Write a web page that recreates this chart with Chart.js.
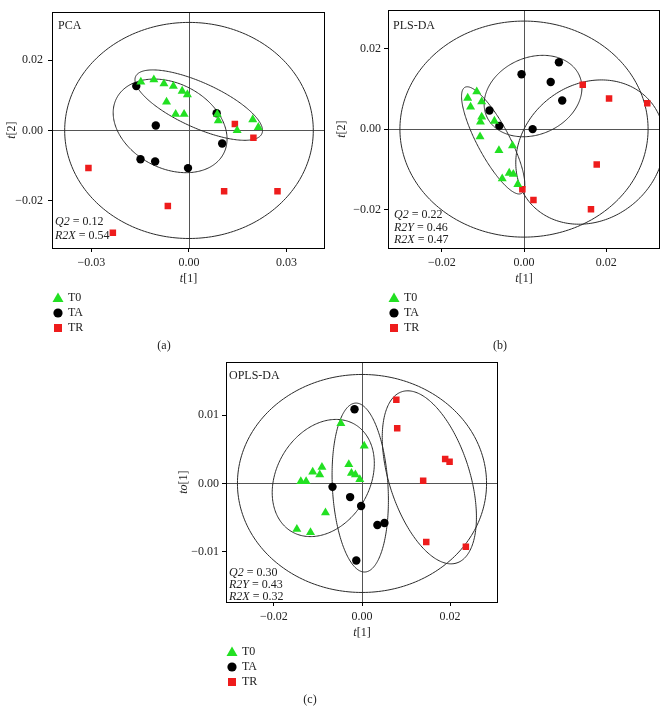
<!DOCTYPE html>
<html>
<head>
<meta charset="utf-8">
<script src="https://cdn.jsdelivr.net/npm/chart.js@4.4.1/dist/chart.umd.min.js"></script>
<style>
body { margin:0; background:#fff; width:672px; height:711px; position:relative; overflow:hidden; }
canvas { position:absolute; }
</style>
</head>
<body>
<canvas id="pca" width="336" height="355" style="left:0;top:0"></canvas>
<canvas id="plsda" width="336" height="355" style="left:336px;top:0"></canvas>
<canvas id="oplsda" width="340" height="359" style="left:170px;top:352px"></canvas>
<script>
// ---- data ----
const groups = ['T0', 'TA', 'TR'];
const groupColors = ['#22e022', '#000000', '#ee1c1c'];

// (a) PCA scores  [t1, t2]
const pcaT0 = [[-0.0148,0.0138],[-0.0108,0.0144],[-0.0077,0.0133],[-0.0048,0.0126],[-0.0021,0.0112],[-0.0005,0.0102],
  [-0.0069,0.0081],[-0.0041,0.0046],[-0.0015,0.0046],[0.0087,0.0046],[0.0090,0.0028],[0.0148,0.0000],[0.0196,0.0031],[0.0213,0.0009]];
const pcaTA = [[-0.0162,0.0126],[-0.0102,0.0014],[0.0085,0.0049],[0.0102,-0.0037],[-0.0149,-0.0082],[-0.0104,-0.0088],[-0.0003,-0.0107]];
const pcaTR = [[0.0141,0.0018],[0.0198,-0.0021],[-0.0309,-0.0107],[0.0108,-0.0173],[0.0272,-0.0173],[-0.0065,-0.0215],[-0.0234,-0.0291]];
// ellipses: [cx, cy, sx, sy, r]  (Hotelling T2 + group ellipses)
const pcaEllipses = [[0,0,0.0382,0.0307,0],[0.0030,0.0072,0.0196,0.0100,-0.72],[-0.0058,0.0013,0.0175,0.0133,-0.28]];
const pcaStats = [[['Q2',true],[' = 0.12',false]], [['R2X',true],[' = 0.54',false]]];
const pcaXTicks = [-0.03, 0, 0.03];
const pcaYTicks = [-0.02, 0, 0.02];

// (b) PLS-DA scores
const plsT0 = [[-0.0137,0.0077],[-0.0115,0.0093],[-0.0130,0.0055],[-0.0103,0.0068],[-0.0103,0.0030],[-0.0106,0.0018],[-0.0072,0.0020],
  [-0.0107,-0.0019],[-0.0061,-0.0053],[-0.0028,-0.0041],[-0.0036,-0.0109],[-0.0026,-0.0112],[-0.0053,-0.0123],[-0.0015,-0.0137]];
const plsTA = [[-0.0006,0.0136],[0.0085,0.0166],[0.0065,0.0117],[0.0093,0.0071],[-0.0084,0.0046],[-0.0060,0.0008],[0.0021,0.0000]];
const plsTR = [[0.0143,0.0110],[0.0207,0.0076],[0.0300,0.0064],[0.0177,-0.0088],[0.0163,-0.0199],[0.0023,-0.0176],[-0.0004,-0.0149]];
const plsEllipses = [[0,0,0.0302,0.0268,0],[-0.0075,-0.0028,0.0077,0.0133,-0.82],[0.0022,0.0082,0.0119,0.0101,0.2],[0.0161,-0.0057,0.0181,0.0179,0.15]];
const plsStats = [[['Q2',true],[' = 0.22',false]], [['R2Y',true],[' = 0.46',false]], [['R2X',true],[' = 0.47',false]]];
const plsXTicks = [-0.02, 0, 0.02];
const plsYTicks = [-0.02, 0, 0.02];

// (c) OPLS-DA scores  [t1, to1]
const oplsT0 = [[-0.0048,0.0088],[0.0005,0.0055],[-0.0030,0.0028],[-0.0091,0.0024],[-0.0112,0.0017],[-0.0096,0.0013],[-0.0024,0.0015],
  [-0.0015,0.0013],[-0.0005,0.0006],[-0.0139,0.0003],[-0.0127,0.0003],[-0.0083,-0.0043],[-0.0148,-0.0067],[-0.0117,-0.0072]];
const oplsTA = [[-0.0017,0.0109],[-0.0067,-0.0005],[-0.0027,-0.0020],[-0.0002,-0.0033],[0.0035,-0.0061],[0.0051,-0.0058],[-0.0013,-0.0113]];
const oplsTR = [[0.0078,0.0123],[0.0080,0.0081],[0.0189,0.0036],[0.0199,0.0032],[0.0139,0.0004],[0.0146,-0.0086],[0.0236,-0.0093]];
const oplsEllipses = [[0,0,0.0283,0.0160,0],[-0.0088,0.0008,0.0116,0.0086,0.25],[-0.0004,-0.0006,0.0064,0.0124,-0.15],[0.0153,0.0009,0.0107,0.0127,-0.46]];
const oplsStats = [[['Q2',true],[' = 0.30',false]], [['R2Y',true],[' = 0.43',false]], [['R2X',true],[' = 0.32',false]]];
const oplsXTicks = [-0.02, 0, 0.02];
const oplsYTicks = [-0.01, 0, 0.01];

// ---- drawing ----
const SERIF = '"Liberation Serif", "Times New Roman", serif';
const pointStyles = ['triangle', 'circle', 'rect'];
const pointRadii = [5.2, 4.2, 4.6];

function fmt(v) {
  return (v < 0 ? '\u2212' : '') + Math.abs(v).toFixed(2);
}

function richWidth(ctx, parts) {
  let w = 0;
  for (const [txt, it] of parts) {
    ctx.font = (it ? 'italic ' : '') + '12px ' + SERIF;
    w += ctx.measureText(txt).width;
  }
  return w;
}
function drawRich(ctx, parts, x, y) {
  ctx.textBaseline = 'middle';
  ctx.textAlign = 'left';
  for (const [txt, it] of parts) {
    ctx.font = (it ? 'italic ' : '') + '12px ' + SERIF;
    ctx.fillText(txt, x, y);
    x += ctx.measureText(txt).width;
  }
}

function drawMarker(ctx, style, x, y) {
  ctx.beginPath();
  if (style === 'triangle') {
    ctx.moveTo(x, y - 5.5); ctx.lineTo(x + 5.5, y + 4); ctx.lineTo(x - 5.5, y + 4);
  } else if (style === 'circle') {
    ctx.arc(x, y, 4.6, 0, Math.PI * 2);
  } else {
    ctx.rect(x - 4, y - 4, 8, 8);
  }
  ctx.closePath();
  ctx.fill();
}

const panelPlugin = {
  id: 'panel',
  beforeDatasetsDraw(chart, args, o) {
    const {ctx, chartArea: a, scales: {x, y}} = chart;
    ctx.save();
    ctx.beginPath(); ctx.rect(a.left, a.top, a.width, a.height); ctx.clip();
    ctx.lineWidth = 1;
    ctx.strokeStyle = '#555';
    const x0 = Math.round(x.getPixelForValue(0)) + 0.5;
    const y0 = Math.round(y.getPixelForValue(0)) + 0.5;
    ctx.beginPath();
    ctx.moveTo(x0, a.top); ctx.lineTo(x0, a.bottom);
    ctx.moveTo(a.left, y0); ctx.lineTo(a.right, y0);
    ctx.stroke();
    ctx.strokeStyle = '#2a2a2a';
    for (const [cx, cy, sx, sy, r] of o.ellipses) {
      const q = Math.sqrt(1 - r * r);
      ctx.beginPath();
      for (let i = 0; i <= 240; i++) {
        const t = i / 240 * Math.PI * 2;
        const px = x.getPixelForValue(cx + sx * Math.cos(t));
        const py = y.getPixelForValue(cy + sy * (r * Math.cos(t) + q * Math.sin(t)));
        if (i) ctx.lineTo(px, py); else ctx.moveTo(px, py);
      }
      ctx.closePath();
      ctx.stroke();
    }
    ctx.restore();
  },
  afterDraw(chart, args, o) {
    const {ctx, chartArea: a} = chart;
    ctx.save();
    ctx.strokeStyle = '#000';
    ctx.lineWidth = 1;
    ctx.strokeRect(Math.round(a.left) + 0.5, Math.round(a.top) + 0.5, Math.round(a.width) - 1, Math.round(a.height));
    ctx.fillStyle = '#222';
    // method name
    drawRich(ctx, [[o.name, false]], a.left + o.nameDx, a.top + o.nameDy);
    // model statistics
    o.stats.forEach((parts, i) => drawRich(ctx, parts, a.left + o.statDx, a.bottom + o.statDy[i]));
    // axis titles
    const cxm = (a.left + a.right) / 2;
    drawRich(ctx, o.xTitle, cxm - richWidth(ctx, o.xTitle) / 2, a.bottom + 31);
    ctx.save();
    ctx.translate(a.left - o.yTitleDx, (a.top + a.bottom) / 2);
    ctx.rotate(-Math.PI / 2);
    drawRich(ctx, o.yTitle, -richWidth(ctx, o.yTitle) / 2, 0);
    ctx.restore();
    // legend
    groups.forEach((g, i) => {
      const ly = a.bottom + 50 + i * 15;
      ctx.fillStyle = groupColors[i];
      drawMarker(ctx, pointStyles[i], a.left + 6, ly);
      ctx.fillStyle = '#222';
      drawRich(ctx, [[g, false]], a.left + 16, ly);
    });
    // caption
    ctx.textAlign = 'center';
    ctx.font = '12px ' + SERIF;
    ctx.fillText(o.caption, o.capX, o.capY);
    ctx.restore();
  }
};

function makePanel(cfg) {
  const canvas = document.getElementById(cfg.id);
  const cw = canvas.width, ch = canvas.height;
  const series = cfg.series.map((pts, i) => ({
    label: groups[i],
    data: pts.map(p => ({x: p[0], y: p[1]})),
    pointStyle: pointStyles[i],
    pointRadius: pointRadii[i],
    pointBackgroundColor: groupColors[i],
    pointBorderWidth: 0,
    borderWidth: 0,
  }));
  const tickFont = {family: SERIF, size: 12};
  return new Chart(canvas, {
    type: 'scatter',
    data: {datasets: series},
    options: {
      responsive: false,
      animation: false,
      devicePixelRatio: 1,
      layout: {padding: {left: 0, right: cw - cfg.area.r, top: cfg.area.t, bottom: ch - cfg.area.b - 20}},
      plugins: {
        legend: {display: false},
        tooltip: {enabled: false},
        panel: cfg.text,
      },
      scales: {
        x: {
          type: 'linear', min: cfg.xMin, max: cfg.xMax,
          afterFit: s => { s.height = 20; },
          afterBuildTicks: s => { s.ticks = cfg.xTicks.map(v => ({value: v})); },
          ticks: {font: tickFont, color: '#222', padding: 4, maxRotation: 0, autoSkip: false, callback: fmt},
          grid: {drawOnChartArea: false, drawTicks: true, tickLength: 4, color: '#000'},
          border: {display: false},
        },
        y: {
          type: 'linear', min: cfg.yMin, max: cfg.yMax,
          afterFit: s => { s.width = cfg.area.l; },
          afterBuildTicks: s => { s.ticks = cfg.yTicks.map(v => ({value: v})); },
          ticks: {font: tickFont, color: '#222', padding: cfg.yPad, autoSkip: false, callback: fmt},
          grid: {drawOnChartArea: false, drawTicks: true, tickLength: 4, color: '#000'},
          border: {display: false},
        },
      },
    },
    plugins: [panelPlugin],
  });
}

makePanel({
  id: 'pca', xMin: -0.0421, xMax: 0.0418, yMin: -0.0334, yMax: 0.0336,
  xTicks: pcaXTicks, yTicks: pcaYTicks, series: [pcaT0, pcaTA, pcaTR],
  area: {l: 52, r: 325, t: 8, b: 248}, yPad: 5,
  text: {name: 'PCA', nameDx: 6, nameDy: 14, stats: pcaStats, statDx: 3, statDy: [-26, -12],
    ellipses: pcaEllipses, xTitle: [['t', true], ['[1]', false]], yTitle: [['t', true], ['[2]', false]], yTitleDx: 40,
    caption: '(a)', capX: 164, capY: 346},
});
makePanel({
  id: 'plsda', xMin: -0.0331, xMax: 0.0331, yMin: -0.0295, yMax: 0.0295,
  xTicks: plsXTicks, yTicks: plsYTicks, series: [plsT0, plsTA, plsTR],
  area: {l: 52, r: 324, t: 7, b: 248}, yPad: 3,
  text: {name: 'PLS-DA', nameDx: 5, nameDy: 16, stats: plsStats, statDx: 6, statDy: [-33, -20, -8],
    ellipses: plsEllipses, xTitle: [['t', true], ['[1]', false]], yTitle: [['t', true], ['[2]', false]], yTitleDx: 46,
    caption: '(b)', capX: 164, capY: 346},
});
makePanel({
  id: 'oplsda', xMin: -0.0309, xMax: 0.0309, yMin: -0.0174, yMax: 0.0178,
  xTicks: oplsXTicks, yTicks: oplsYTicks, series: [oplsT0, oplsTA, oplsTR],
  area: {l: 56, r: 328, t: 8, b: 250}, yPad: 3,
  text: {name: 'OPLS-DA', nameDx: 3, nameDy: 14, stats: oplsStats, statDx: 3, statDy: [-29, -17, -5.5],
    ellipses: oplsEllipses, xTitle: [['t', true], ['[1]', false]], yTitle: [['to', true], ['[1]', false]], yTitleDx: 42,
    caption: '(c)', capX: 140, capY: 348},
});
</script>
</body>
</html>
